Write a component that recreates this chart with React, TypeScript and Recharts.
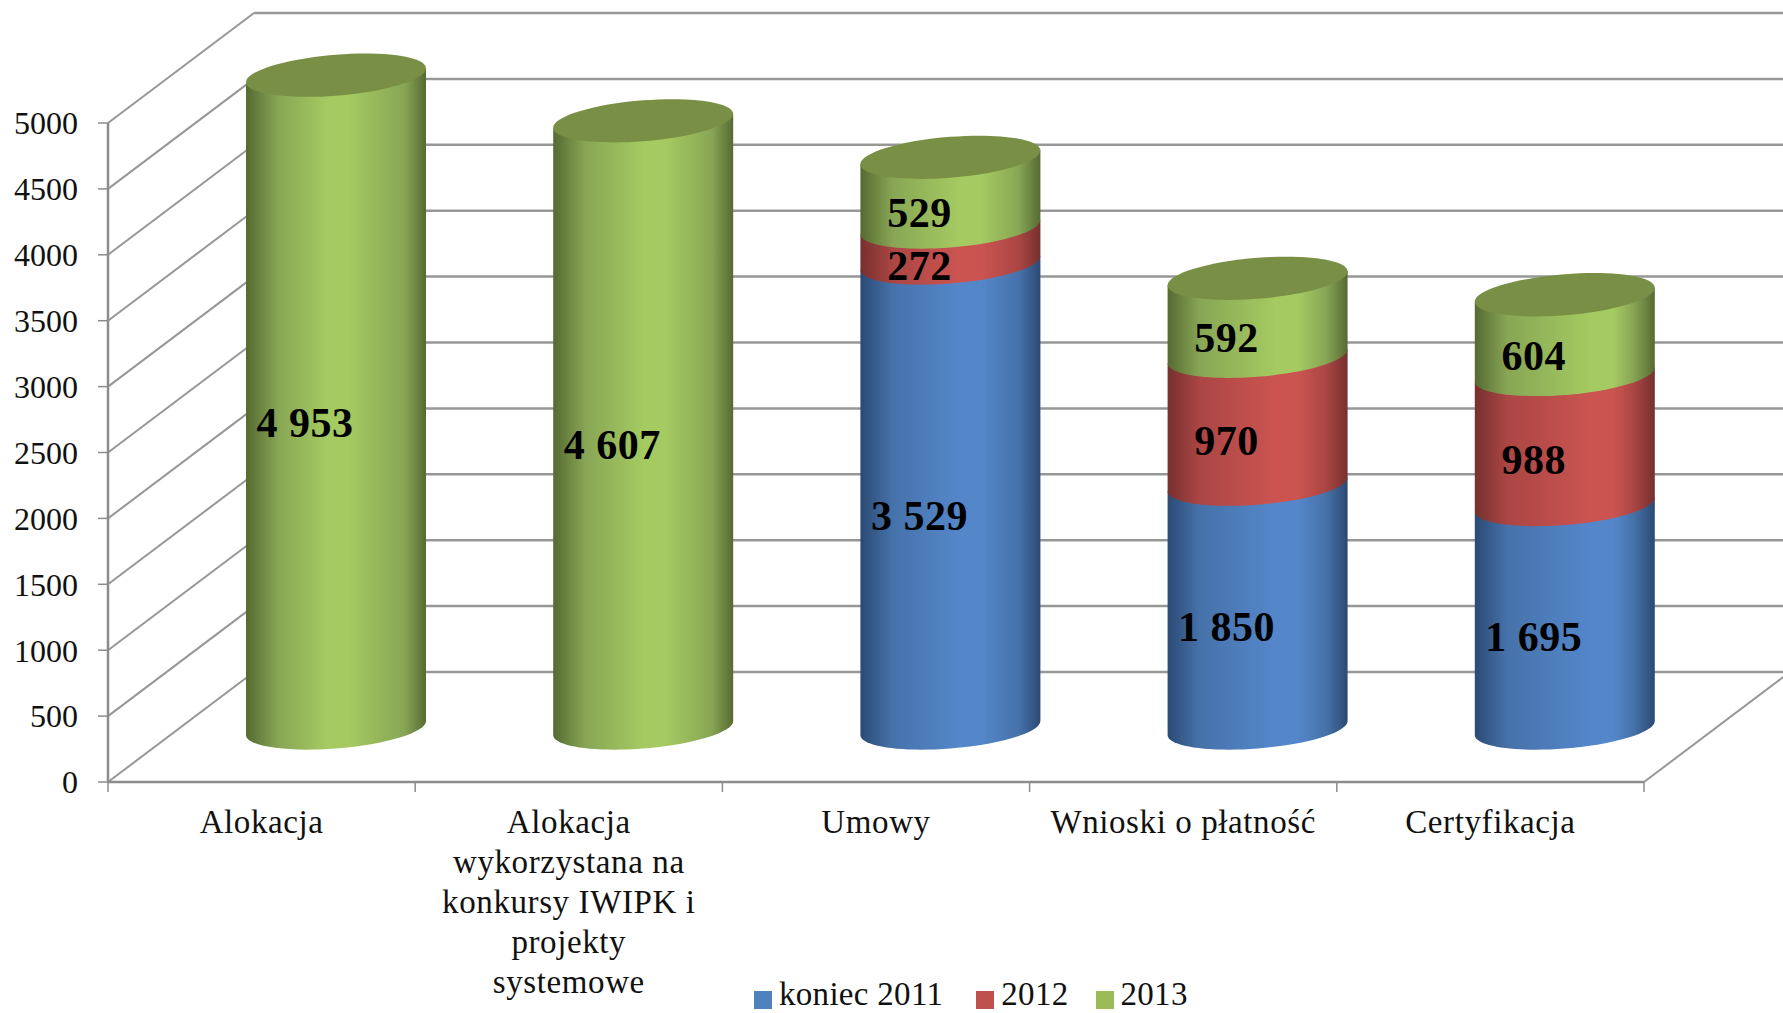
import React from "react";
import { BarChart, Bar, XAxis, YAxis, CartesianGrid, Legend, LabelList } from "recharts";

const categories = [
  "Alokacja",
  "Alokacja\nwykorzystana na\nkonkursy IWIPK i\nprojekty\nsystemowe",
  "Umowy",
  "Wnioski o płatność",
  "Certyfikacja",
];
const koniec2011 = [0, 0, 3529, 1850, 1695];
const rok2012 = [0, 0, 272, 970, 988];
const rok2013 = [4953, 4607, 529, 592, 604];
const yTicks = [0, 500, 1000, 1500, 2000, 2500, 3000, 3500, 4000, 4500, 5000];

const data = categories.map((name, i) => ({
  name,
  koniec: koniec2011[i],
  r2012: rok2012[i],
  r2013: rok2013[i],
}));

const FONT = "'Liberation Serif', serif";
const INK = "#111111";
const AXIS = "#8c8c8c";
const DEPTH_X = 146;
const DEPTH_Y = -110;
const BAR_DX = 74;
const BAR_DY = -54;
const SKEW = 7;
const RY = 20.5;
const K = 0.5523;

const palette: Record<string, { edge: string; soft: string; light: string; cap: string; flat: string }> = {
  koniec: { edge: "#2b4a74", soft: "#4672aa", light: "#5487ca", cap: "#3f6698", flat: "#4F81BD" },
  r2012: { edge: "#76302e", soft: "#ab4644", light: "#cb5451", cap: "#94403e", flat: "#C0504D" },
  r2013: { edge: "#566a32", soft: "#88a655", light: "#a5ca61", cap: "#7a8f46", flat: "#9BBB59" },
};

function Cylinder(props: any) {
  const { x, y, width, height, dataKey, index, payload } = props;
  if (!height || height <= 0) return null;
  const c = palette[dataKey];
  const rx = width / 2;
  const cx = x + rx;
  const pt = (cy: number, u: number, v: number) =>
    `${cx + rx * u} ${cy + RY * v - SKEW * u}`;
  const bot = y + height;
  const front = (cy: number) =>
    `C ${pt(cy, -1, K)} ${pt(cy, -K, 1)} ${pt(cy, 0, 1)} C ${pt(cy, K, 1)} ${pt(cy, 1, K)} ${pt(cy, 1, 0)}`;
  const back = (cy: number) =>
    `C ${pt(cy, 1, -K)} ${pt(cy, K, -1)} ${pt(cy, 0, -1)} C ${pt(cy, -K, -1)} ${pt(cy, -1, -K)} ${pt(cy, -1, 0)}`;
  const body = `M ${pt(y, -1, 0)} L ${pt(bot, -1, 0)} ${front(bot)} L ${pt(y, 1, 0)} Z`;
  const isTop = dataKey === "r2013" && payload.r2013 > 0;
  const id = `grad-${dataKey}-${index}`;
  const lightAt = 0.45 + 0.05 * index;
  return (
    <g transform={`translate(${BAR_DX} ${BAR_DY})`}>
      <defs>
        <linearGradient id={id} x1="0" y1="0" x2="1" y2="0">
          <stop offset="0" stopColor={c.edge} />
          <stop offset={0.18} stopColor={c.soft} />
          <stop offset={lightAt} stopColor={c.light} />
          <stop offset={lightAt + 0.12} stopColor={c.light} />
          <stop offset={0.88} stopColor={c.soft} />
          <stop offset="1" stopColor={c.edge} />
        </linearGradient>
      </defs>
      <path d={body} fill={`url(#${id})`} />
      {isTop && <path d={`M ${pt(y, -1, 0)} ${front(y)} ${back(y)} Z`} fill={c.cap} />}
    </g>
  );
}

function ValueLabel(props: any) {
  const { x, y, width, height, value } = props;
  if (!value) return null;
  const text = value >= 1000 ? `${Math.floor(value / 1000)} ${String(value % 1000).padStart(3, "0")}` : String(value);
  return (
    <text
      x={x + width / 2 + 43}
      y={y + height / 2 - 33}
      textAnchor="middle"
      dominantBaseline="central"
      fontFamily={FONT}
      fontWeight={700}
      fontSize={42}
      letterSpacing={0.5}
      fill="#000"
    >
      {text}
    </text>
  );
}

function CategoryTick(props: any) {
  const { x, y, payload, width, visibleTicksCount, index } = props;
  const step = width / visibleTicksCount;
  const lines = String(payload.value).split("\n");
  return (
    <g>
      <line x1={x - step / 2} x2={x - step / 2} y1={y} y2={y + 10} stroke={AXIS} strokeWidth={1.5} />
      {index === visibleTicksCount - 1 && (
        <line x1={x + step / 2} x2={x + step / 2} y1={y} y2={y + 10} stroke={AXIS} strokeWidth={1.5} />
      )}
      <text x={x} y={y + 51} textAnchor="middle" fontFamily={FONT} fontSize={33} letterSpacing={0.6} fill={INK}>
        {lines.map((l, i) => (
          <tspan key={i} x={x} dy={i === 0 ? 0 : 40}>
            {l}
          </tspan>
        ))}
      </text>
    </g>
  );
}

function GridLine(props: any) {
  const { x1, x2, y1, index } = props;
  return (
    <g key={`g-${index}`}>
      <line x1={x1} y1={y1} x2={x1 + DEPTH_X} y2={y1 + DEPTH_Y} stroke="#979797" strokeWidth={2} />
      <line x1={x1 + DEPTH_X} y1={y1 + DEPTH_Y} x2={x2 + DEPTH_X} y2={y1 + DEPTH_Y} stroke="#979797" strokeWidth={2.5} />
      {y1 > 760 && (
        <line x1={x2} y1={y1} x2={x2 + DEPTH_X} y2={y1 + DEPTH_Y} stroke="#979797" strokeWidth={2} />
      )}
    </g>
  );
}

function LegendBox(props: any) {
  const gaps = [33, 27, 0];
  return (
    <div style={{ display: "flex", alignItems: "center", fontFamily: FONT, fontSize: 33, letterSpacing: 0.3, color: INK, lineHeight: "30px", whiteSpace: "nowrap" }}>
      {(props.payload || []).map((p: any, i: number) => (
        <div key={p.value} style={{ display: "flex", alignItems: "center", marginRight: gaps[i] }}>
          <span style={{ display: "inline-block", width: 18, height: 18, background: p.color, marginRight: 7, marginTop: 12 }} />
          <span>{p.value}</span>
        </div>
      ))}
    </div>
  );
}

export default function App() {
  return (
    <div style={{ position: "absolute", left: 0, top: 0, width: 1783, height: 1013, overflow: "hidden", background: "#fff" }}>
      <BarChart
        width={1783}
        height={1013}
        data={data}
        stackOffset="none"
        barSize={180}
        margin={{ top: 123, right: 139, bottom: 0, left: 0 }}
      >
        <CartesianGrid vertical={false} horizontal={(p: any) => <GridLine {...p} />} />
        <XAxis
          dataKey="name"
          interval={0}
          height={231}
          tickLine={false}
          tickSize={0}
          tickMargin={0}
          axisLine={{ stroke: AXIS, strokeWidth: 2.5 }}
          tick={<CategoryTick />}
        />
        <YAxis
          type="number"
          domain={[0, 5000]}
          ticks={yTicks}
          width={108}
          tickSize={10}
          tickMargin={20}
          interval={0}
          axisLine={{ stroke: AXIS, strokeWidth: 2.5 }}
          tickLine={{ stroke: AXIS, strokeWidth: 1.5 }}
          tick={{ fontFamily: FONT, fontSize: 32, fill: INK }}
        />
        <Legend
          layout="horizontal"
          verticalAlign="middle"
          align="center"
          itemSorter={null}
          wrapperStyle={{ left: 754, top: 979, width: "auto", height: 30 }}
          content={<LegendBox />}
        />
        <Bar dataKey="koniec" name="koniec 2011" stackId="a" fill={palette.koniec.flat} isAnimationActive={false} shape={<Cylinder dataKey="koniec" />}>
          <LabelList dataKey="koniec" content={<ValueLabel />} />
        </Bar>
        <Bar dataKey="r2012" name="2012" stackId="a" fill={palette.r2012.flat} isAnimationActive={false} shape={<Cylinder dataKey="r2012" />}>
          <LabelList dataKey="r2012" content={<ValueLabel />} />
        </Bar>
        <Bar dataKey="r2013" name="2013" stackId="a" fill={palette.r2013.flat} isAnimationActive={false} shape={<Cylinder dataKey="r2013" />}>
          <LabelList dataKey="r2013" content={<ValueLabel />} />
        </Bar>
      </BarChart>
    </div>
  );
}
